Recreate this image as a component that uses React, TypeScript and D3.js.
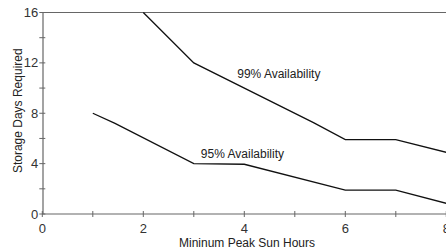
import { scaleLinear, line, range } from 'd3'

const width = 446
const height = 251

const hours99 = [2, 3, 5.37, 6, 7, 8]
const days99 = [16, 12, 7.25, 5.9, 5.9, 4.9]
const hours95 = [1, 1.44, 3, 4, 6, 7, 8]
const days95 = [8, 7.2, 4, 3.95, 1.9, 1.9, 0.85]
const seriesLabels = ['99% Availability', '95% Availability']
const xTickLabels = [0, 2, 4, 6, 8]
const yTickLabels = [0, 4, 8, 12, 16]

const font = '"Liberation Sans", Arial, sans-serif'
const axisColor = '#666'

function App() {
  const xScale = scaleLinear().domain([0, 8]).range([42.3, 446.3])
  const yScale = scaleLinear().domain([0, 16]).range([214, 12.5])

  const path = line<[number, number]>()
    .x((d) => xScale(d[0]))
    .y((d) => yScale(d[1]))

  const s99 = hours99.map((h, i) => [h, days99[i]] as [number, number])
  const s95 = hours95.map((h, i) => [h, days95[i]] as [number, number])

  const x0 = xScale(0)
  const y0 = yScale(0)

  return (
    <svg
      width={width}
      height={height}
      style={{ position: 'absolute', left: 0, top: 0, background: '#fff' }}
      fontFamily={font}
    >
      {/* frame: left axis, bottom axis, top line */}
      <line x1={x0 + 0.7} x2={x0 + 0.7} y1={yScale(16)} y2={y0} stroke={axisColor} strokeWidth={1.2} />
      <line x1={x0} x2={width} y1={y0} y2={y0} stroke={axisColor} strokeWidth={1.2} />
      <line x1={x0} x2={width} y1={yScale(16)} y2={yScale(16)} stroke={axisColor} strokeWidth={1.2} />

      {range(0, 9).map((t) => (
        <line key={'xt' + t} x1={xScale(t)} x2={xScale(t)} y1={y0 - 3} y2={y0 + 3} stroke={axisColor} strokeWidth={1} />
      ))}
      {range(0, 17, 2).map((t) => (
        <line key={'yt' + t} x1={x0 - 3} x2={x0 + 3} y1={yScale(t)} y2={yScale(t)} stroke={axisColor} strokeWidth={1} />
      ))}

      {xTickLabels.map((t) => (
        <text key={'xl' + t} x={xScale(t)} y={y0 + 14} dy="0.35em" textAnchor="middle" fontSize={13} fill="#333">
          {t}
        </text>
      ))}
      {yTickLabels.map((t) => (
        <text key={'yl' + t} x={x0 - 4} y={yScale(t)} dy="0.35em" textAnchor="end" fontSize={13} fill="#333">
          {t}
        </text>
      ))}

      <text x={247} y={243} dy="0.35em" textAnchor="middle" fontSize={12} fill="#222">
        Mininum Peak Sun Hours
      </text>
      <text
        transform={`translate(18, ${yScale(8.2)}) rotate(-90)`}
        dy="0.35em"
        textAnchor="middle"
        fontSize={12}
        fill="#222"
      >
        Storage Days Required
      </text>

      <path d={path(s99) ?? ''} fill="none" stroke="#111" strokeWidth={1.3} />
      <path d={path(s95) ?? ''} fill="none" stroke="#111" strokeWidth={1.3} />

      <text x={xScale(3.86)} y={yScale(11.1)} dy="0.35em" fontSize={12} fill="#222">
        {seriesLabels[0]}
      </text>
      <text x={xScale(3.14)} y={yScale(4.8)} dy="0.35em" fontSize={12} fill="#222">
        {seriesLabels[1]}
      </text>
    </svg>
  )
}

export default App
